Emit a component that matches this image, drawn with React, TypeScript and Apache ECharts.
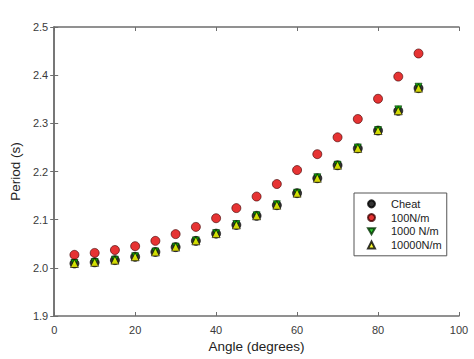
import React, { useEffect, useRef } from "react";
import * as echarts from "echarts";

const angles = [5, 10, 15, 20, 25, 30, 35, 40, 45, 50, 55, 60, 65, 70, 75, 80, 85, 90];
const cheat = [2.009, 2.0115, 2.016, 2.023, 2.033, 2.043, 2.056, 2.071, 2.089, 2.108, 2.13, 2.155, 2.186, 2.213, 2.248, 2.285, 2.326, 2.373];
const n100 = [2.027, 2.031, 2.037, 2.045, 2.056, 2.07, 2.085, 2.103, 2.124, 2.148, 2.174, 2.203, 2.236, 2.271, 2.309, 2.351, 2.397, 2.445];
const n1000 = [2.01, 2.012, 2.017, 2.024, 2.034, 2.044, 2.057, 2.072, 2.091, 2.109, 2.132, 2.156, 2.188, 2.214, 2.25, 2.286, 2.329, 2.376];
const n10000 = [2.009, 2.0115, 2.016, 2.023, 2.033, 2.043, 2.056, 2.071, 2.089, 2.108, 2.13, 2.155, 2.186, 2.213, 2.248, 2.285, 2.326, 2.373];
const seriesNames = ["Cheat", "100N/m", "1000 N/m", "10000N/m"];

const DOWN_TRI = "path://M0,0L10,0L5,8.66Z";

const pairs = (ys: number[]) => angles.map((a, i) => [a, ys[i]]);

export default function App() {
  const ref = useRef<HTMLDivElement>(null);
  useEffect(() => {
    if (!ref.current) return;
    const chart = echarts.init(ref.current, null, { renderer: "svg" });
    const axisLine = { show: true, lineStyle: { color: "#6e6e6e", width: 1.5 } };
    const tick = { show: true, inside: true, length: 4, lineStyle: { color: "#6e6e6e", width: 1 } };
    const labelStyle = { color: "#3a3a3a", fontSize: 11, fontFamily: "Liberation Sans, Arial, sans-serif" };
    chart.setOption({
      animation: false,
      backgroundColor: "#ffffff",
      grid: { left: 45, top: 27, right: 15, bottom: 43, containLabel: false },
      legend: {
        show: true,
        orient: "vertical",
        left: 354,
        top: 193,
        padding: [4, 5, 4, 13],
        itemWidth: 7,
        itemHeight: 7,
        itemGap: 0,
        borderColor: "#555",
        borderWidth: 1,
        backgroundColor: "#fff",
        data: [
          { name: "Cheat", icon: "circle" },
          { name: "100N/m", icon: "circle" },
          { name: "1000 N/m", icon: DOWN_TRI },
          { name: "10000N/m", icon: "triangle" },
        ],
        textStyle: { color: "#222", fontSize: 11, lineHeight: 13.7, padding: [0, 0, 0, 11], fontFamily: "Liberation Sans, Arial, sans-serif" },
      },
      xAxis: [
        {
          type: "value",
          position: "bottom",
          min: 0,
          max: 100,
          interval: 20,
          name: "Angle (degrees)",
          nameLocation: "middle",
          nameGap: 23,
          nameTextStyle: { color: "#222", fontSize: 13.5, fontFamily: "Liberation Sans, Arial, sans-serif" },
          axisLine,
          axisTick: tick,
          axisLabel: { ...labelStyle, margin: 8 },
          splitLine: { show: false },
        },
        {
          type: "value",
          position: "top",
          min: 0,
          max: 100,
          interval: 20,
          axisLine,
          axisTick: tick,
          axisLabel: { show: false },
          splitLine: { show: false },
        },
      ],
      yAxis: [
        {
          type: "value",
          position: "left",
          min: 1.9,
          max: 2.5,
          interval: 0.1,
          name: "Period (s)",
          nameLocation: "middle",
          nameGap: 28,
          nameTextStyle: { color: "#222", fontSize: 13.5, fontFamily: "Liberation Sans, Arial, sans-serif" },
          axisLine,
          axisTick: tick,
          axisLabel: { ...labelStyle, margin: 6, formatter: (v: number) => v.toFixed(1) },
          splitLine: { show: false },
        },
        {
          type: "value",
          position: "right",
          min: 1.9,
          max: 2.5,
          interval: 0.1,
          axisLine,
          axisTick: tick,
          axisLabel: { show: false },
          splitLine: { show: false },
        },
      ],
      series: [
        {
          name: seriesNames[0],
          type: "scatter",
          data: pairs(cheat),
          symbol: "circle",
          symbolSize: 9,
          itemStyle: { color: "#000000", borderColor: "#000", borderWidth: 0.8 },
          z: 2,
        },
        {
          name: seriesNames[1],
          type: "scatter",
          data: pairs(n100),
          symbol: "circle",
          symbolSize: 9,
          itemStyle: { color: "#e00000", borderColor: "#400000", borderWidth: 0.8 },
          z: 3,
        },
        {
          name: seriesNames[2],
          type: "scatter",
          data: pairs(n1000),
          symbol: DOWN_TRI,
          symbolSize: 7,
          itemStyle: { color: "#00c000", borderColor: "#003000", borderWidth: 0.8 },
          z: 4,
        },
        {
          name: seriesNames[3],
          type: "scatter",
          data: pairs(n10000),
          symbol: "triangle",
          symbolSize: 8,
          itemStyle: { color: "#ffff00", borderColor: "#000", borderWidth: 0.8 },
          z: 5,
        },
      ],
    });
    return () => chart.dispose();
  }, []);
  return <div ref={ref} style={{ position: "fixed", left: 0, top: 0, width: 474, height: 359 }} />;
}
